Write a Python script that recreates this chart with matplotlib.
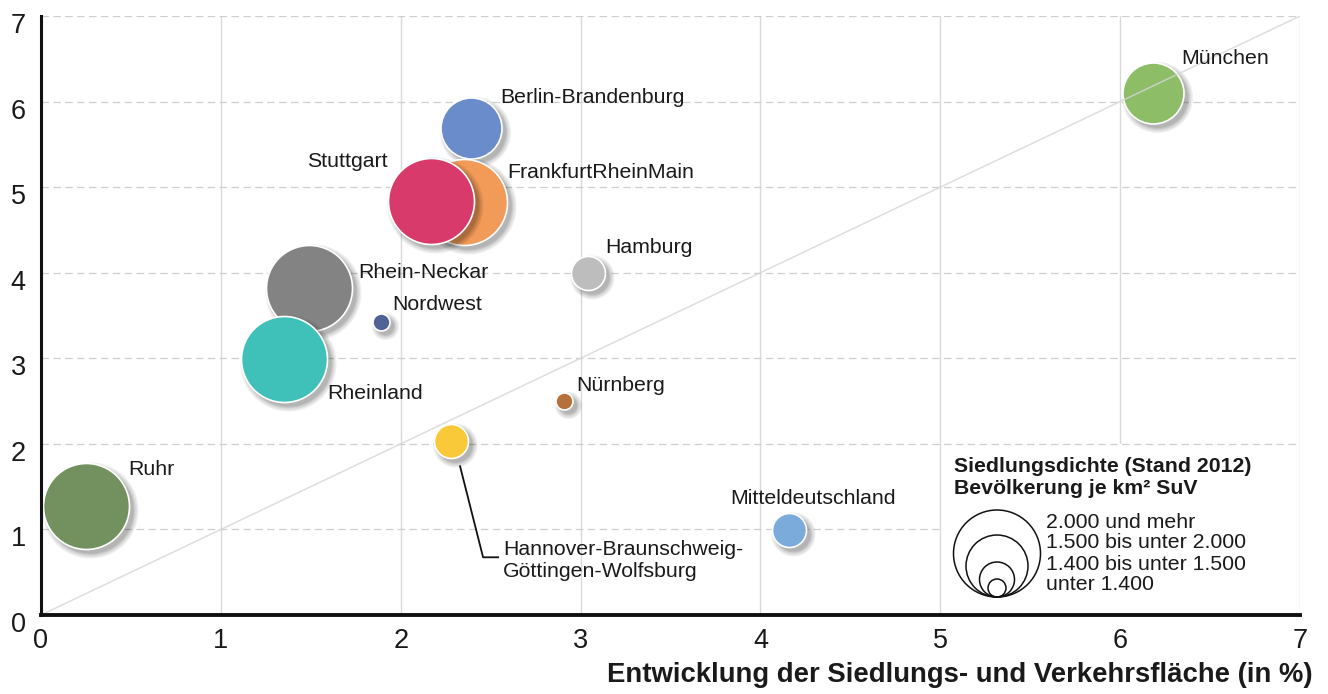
import numpy as np
import matplotlib.pyplot as plt
from matplotlib.transforms import offset_copy, ScaledTranslation, IdentityTransform
from matplotlib.patches import Rectangle, Circle
from matplotlib.lines import Line2D

plt.rcParams['font.family'] = ['Liberation Sans', 'DejaVu Sans']

# Metropolregionen: Flächenentwicklung (x) und Bevölkerungsentwicklung (y)
regionen = ['München', 'Berlin-Brandenburg', 'FrankfurtRheinMain', 'Stuttgart', 'Hamburg',
            'Rhein-Neckar', 'Nordwest', 'Rheinland', 'Nürnberg',
            'Hannover-Braunschweig-\nGöttingen-Wolfsburg', 'Ruhr', 'Mitteldeutschland']
flaeche = [6.18, 2.39, 2.35, 2.17, 3.04, 1.49, 1.89, 1.35, 2.91, 2.28, 0.25, 4.16]
bevoelkerung = [6.10, 5.69, 4.83, 4.84, 4.00, 3.82, 3.42, 2.99, 2.50, 2.03, 1.27, 0.99]
# 3 = 2.000 und mehr, 2 = 1.500-2.000, 1 = 1.400-1.500, 0 = unter 1.400
dichte_klasse = [2, 2, 3, 3, 1, 3, 0, 3, 0, 1, 3, 1]
farben = ['#8dbd67', '#6a8cca', '#f29a58', '#d83a6c', '#bdbdbd', '#838383',
          '#4f6495', '#3fc1ba', '#b5703c', '#f9c93a', '#72915f', '#7aabdb']

klassen_text = ['2.000 und mehr', '1.500 bis unter 2.000', '1.400 bis unter 1.500', 'unter 1.400']
achsen_ticks = [0, 1, 2, 3, 4, 5, 6, 7]

# Label-Versatz in Pixeln (rechts, unten) relativ zur Blase
label_versatz = [(29, -35), (29, -31), (44, -29), (-124, -39), (17, -25), (49, -16),
                 (11, -18), (43, 34), (12, -16), (52, 119), (42, -37), (-59, -32)]

radius_px = {3: 43, 2: 30.5, 1: 17, 0: 8.5}
DPI = 100
W, H = 1328, 694


def groesse(r):
    return (2 * r * 72 / DPI) ** 2


fig = plt.figure(figsize=(W / DPI, H / DPI), dpi=DPI)
ax = fig.add_axes([41 / W, 79 / H, 1259 / W, 599 / H])
ax.set_xlim(0, 7)
ax.set_ylim(0, 7)

# Gitter
for x in achsen_ticks[1:]:
    z = 3 if x in (5, 7) else 1
    ax.axvline(x, color='#d9d9d9', lw=1.0, zorder=z)
for y in achsen_ticks[1:]:
    z = 3 if y == 2 else 1
    ax.axhline(y, color='#cfcfcf', lw=0.9, ls=(0, (6, 3.5)), zorder=z)

# weisse Fläche für die Legende
ax.add_patch(Rectangle((5, 0), 2, 2, fc='white', ec='none', zorder=2))

# Diagonale
ax.plot([0, 7], [0, 7], color='#d6d6d6', lw=1.1, alpha=0.8, zorder=40, solid_capstyle='butt')

# Blasen mit Schatten
schatten_tr = offset_copy(ax.transData, fig=fig, x=4, y=-4, units='dots')
zo = 5
for i in range(len(regionen)):
    r = radius_px[dichte_klasse[i]]
    for extra in [5.0, 3.5, 2.0, 1.0, 0.0]:
        ax.scatter([flaeche[i]], [bevoelkerung[i]], s=groesse(r + extra), color='black',
                   alpha=0.065, lw=0, transform=schatten_tr, zorder=zo)
    zo += 1
    ax.scatter([flaeche[i]], [bevoelkerung[i]], s=groesse(r), color=farben[i],
               edgecolor='white', lw=1.2, zorder=zo)
    zo += 1
    dx, dy = label_versatz[i]
    ax.annotate(regionen[i], (flaeche[i], bevoelkerung[i]), xytext=(dx, -dy),
                textcoords='offset pixels', ha='left', va='center',
                fontsize=15.3, color='#1a1a1a', zorder=50)

# Spines und Ticks
for s in ['top', 'right']:
    ax.spines[s].set_visible(False)
ax.spines['left'].set_linewidth(2.2)
ax.spines['bottom'].set_linewidth(2.8)
ax.spines['left'].set_color('#111111')
ax.spines['bottom'].set_color('#111111')
ax.spines['left'].set_zorder(45)
ax.spines['bottom'].set_zorder(45)
ax.set_xticks(achsen_ticks)
ax.set_yticks(achsen_ticks)
ax.tick_params(length=0, labelsize=19.5, labelcolor='#1a1a1a')
ax.tick_params(axis='x', pad=9)
ax.tick_params(axis='y', pad=11)
for lab in ax.get_yticklabels():
    lab.set_transform(lab.get_transform() + ScaledTranslation(0, -0.07, fig.dpi_scale_trans))

fig.text(1313 / W, 1 - 675 / H, 'Entwicklung der Siedlungs- und Verkehrsfläche (in %)',
         ha='right', va='center', fontsize=19.8, fontweight='bold', color='#1a1a1a')

# Leader-Linie für Hannover
idx = 9
px, py = ax.transData.transform((flaeche[idx], bevoelkerung[idx]))
pts = [(9, 25), (32, 116), (47, 116)]
fig.add_artist(Line2D([px + a for a, b in pts], [py - b for a, b in pts],
                      color='#111111', lw=1.3, transform=IdentityTransform()))

# Legende
fig.text(954 / W, 1 - 467 / H, 'Siedlungsdichte (Stand 2012)', ha='left', va='center',
         fontsize=15.3, fontweight='bold', color='#1a1a1a')
fig.text(954 / W, 1 - 489 / H, 'Bevölkerung je km² SuV', ha='left', va='center',
         fontsize=15.3, fontweight='bold', color='#1a1a1a')
for k in [3, 2, 1, 0]:
    r = radius_px[k] + 0.5
    fig.add_artist(Circle((997, H - 597 + r), r, fill=False, ec='#111111', lw=1.1,
                          transform=IdentityTransform()))
for j, t in enumerate(klassen_text):
    fig.text(1046 / W, 1 - (522 + 21 * j) / H, t, ha='left', va='center',
             fontsize=15.3, color='#1a1a1a')

fig.savefig('out.png', dpi=DPI)
